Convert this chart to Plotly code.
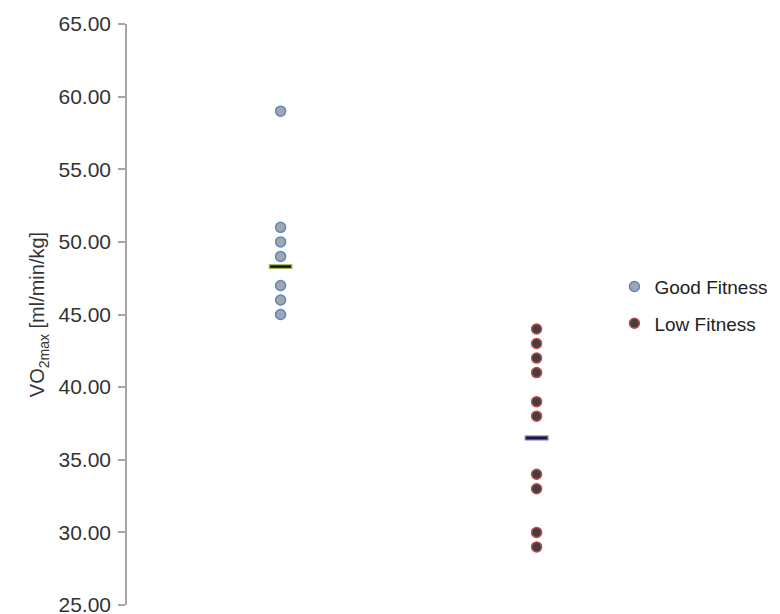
import plotly.graph_objects as go

categories = ["Good Fitness", "Low Fitness"]
good_values = [59, 51, 50, 49, 47, 46, 45]
low_values = [44, 43, 42, 41, 39, 38, 34, 33, 30, 29]
mean_values = [48.3, 36.5]
y_ticks = [25, 30, 35, 40, 45, 50, 55, 60, 65]

FONT = "Liberation Sans, Arial, sans-serif"

fig = go.Figure()
fig.add_trace(go.Scatter(
    x=[0] * len(good_values), y=good_values, mode="markers", name=categories[0],
    legendgroup="g",
    marker=dict(size=10, color="#a3a7ad", line=dict(color="#5a86c2", width=1.5)),
))
fig.add_trace(go.Scatter(
    x=[1] * len(low_values), y=low_values, mode="markers", name=categories[1],
    legendgroup="l",
    marker=dict(size=10, color="#404040", line=dict(color="#c24a4a", width=1.5)),
))
# mean bars
mean_outline = ["#9cbf4f", "#7a62a8"]
mean_inner = ["#111111", "#1a1440"]
for i in range(2):
    fig.add_trace(go.Scatter(
        x=[i], y=[mean_values[i]], mode="markers", showlegend=False, hoverinfo="skip",
        marker=dict(symbol="line-ew", size=17, line=dict(color=mean_outline[i], width=5)),
    ))
    fig.add_trace(go.Scatter(
        x=[i], y=[mean_values[i]], mode="markers", showlegend=False, hoverinfo="skip",
        marker=dict(symbol="line-ew", size=15, line=dict(color=mean_inner[i], width=2.5)),
    ))

fig.update_layout(
    width=772, height=606,
    margin=dict(l=119, r=140.6, t=16, b=9, autoexpand=False),
    paper_bgcolor="white", plot_bgcolor="white",
    font=dict(family=FONT, size=20, color="#333333"),
    showlegend=True,
    legend=dict(x=0.952, y=0.516, xanchor="left", yanchor="middle",
                font=dict(family=FONT, size=19, color="#222222"), tracegroupgap=9,
                bgcolor="rgba(0,0,0,0)"),
    xaxis=dict(range=[-0.6, 1.4], visible=False, showgrid=False, zeroline=False),
    yaxis=dict(
        range=[25, 65], tickvals=y_ticks, tickformat=".2f", automargin=False,
        showgrid=False, zeroline=False, showline=True, linecolor="#a6a6a6", linewidth=1.5,
        ticks="outside", ticklen=7, tickcolor="#a6a6a6", tickwidth=1.5,
        ticklabelstandoff=3, ticklabeloverflow="allow",
        tickfont=dict(family=FONT, size=21, color="#333333"),
        title=dict(text="VO<sub>2max</sub> [ml/min/kg]",
                   font=dict(family=FONT, size=20, color="#333333"), standoff=8),
    ),
)

fig.write_html("out.html")
